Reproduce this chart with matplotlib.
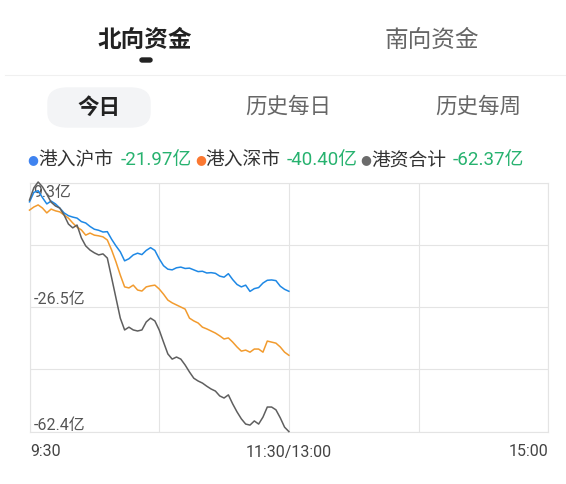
import numpy as np
import matplotlib
matplotlib.use('Agg')
import matplotlib.pyplot as plt
from matplotlib.patches import FancyBboxPatch

plt.rcParams['font.family'] = ['Noto Sans CJK SC', 'DejaVu Sans']
plt.rcParams['axes.unicode_minus'] = False

# ---- data (亿元), minutes after 9:30 ----
minutes = list(range(0, 121, 2))
sh_flow = [3.8, 6.5, 7.0, 5.0, 3.2, 4.0, 3.2, 2.0, 0.6, -0.2,
           -0.6, -0.9, -1.9, -2.3, -3.3, -4.1, -4.4, -4.9, -4.8, -7.0,
           -8.9, -10.6, -13.2, -12.6, -11.5, -11.0, -11.4, -10.2, -9.4, -10.2,
           -12.6, -14.6, -15.6, -15.8, -15.2, -15.0, -15.4, -15.3, -15.8, -16.3,
           -16.2, -16.7, -16.6, -16.8, -17.6, -17.9, -16.9, -18.6, -20.0, -20.7,
           -20.2, -22.0, -21.2, -20.9, -19.6, -18.8, -18.7, -18.9, -20.5, -21.4,
           -21.97]
sz_flow = [1.4, 2.3, 2.9, 2.0, 0.6, 1.7, 1.2, 0.9, 0.0, -0.9,
           -2.3, -3.5, -4.3, -5.8, -5.2, -5.8, -6.0, -6.3, -7.2, -10.1,
           -13.5, -17.3, -20.7, -21.0, -20.2, -21.6, -21.9, -20.7, -20.4, -20.2,
           -21.3, -22.8, -24.5, -25.3, -25.9, -26.5, -27.1, -29.7, -30.5, -31.1,
           -32.3, -32.8, -33.4, -34.0, -34.8, -35.7, -35.4, -36.6, -38.0, -39.2,
           -38.9, -39.5, -38.6, -38.6, -39.5, -36.3, -36.6, -36.9, -38.0, -39.5,
           -40.40]
total_flow = [4.3, 7.8, 9.5, 8.1, 6.0, 3.7, 2.6, 2.0, 0.0, -2.6,
              -3.7, -2.9, -6.6, -8.9, -10.1, -10.9, -11.5, -11.2, -12.4, -18.1,
              -23.9, -29.7, -33.1, -32.3, -33.1, -33.4, -33.1, -30.8, -29.7, -30.5,
              -33.1, -36.6, -40.0, -41.5, -40.9, -41.5, -43.2, -45.2, -47.0, -47.8,
              -48.4, -49.3, -50.1, -50.7, -52.1, -52.7, -51.8, -54.4, -56.7, -58.7,
              -60.2, -60.5, -59.3, -60.2, -58.2, -55.3, -55.3, -56.1, -58.4, -61.1,
              -62.37]

series_names = ['港入沪市', '港入深市', '港资合计']
series_last = ['-21.97亿', '-40.40亿', '-62.37亿']
y_top, y_bottom = 9.3, -62.4
y_labels = ['9.3亿', '-26.5亿', '-62.4亿']
x_labels = ['9:30', '11:30/13:00', '15:00']

W, H = 566, 484
fig = plt.figure(figsize=(W / 100, H / 100), dpi=100)
fig.patch.set_facecolor('white')


def px(x, y):
    return x / W, 1 - y / H


# ---- header tabs ----
fig.text(*px(145, 40), '北向资金', ha='center', va='center', fontsize=17,
         fontweight='bold', color='#222222')
fig.text(*px(432, 40), '南向资金', ha='center', va='center', fontsize=17,
         color='#666666')
x0, y0 = px(140, 62)
fig.patches.append(FancyBboxPatch((x0, y0), 12 / W, 4 / H,
                                  boxstyle='round,pad=0,rounding_size=0.004',
                                  transform=fig.transFigure, color='#222222'))
fig.add_artist(plt.Line2D([5 / W, 1], [1 - 75 / H] * 2, color='#f0f0f0', lw=0.8))

# pill behind "今日"
x0, y0 = px(48, 127)
fig.patches.append(FancyBboxPatch((x0, y0), 102 / W, 39 / H,
                                  boxstyle='round,pad=0,rounding_size=0.035',
                                  transform=fig.transFigure, color='#f3f4f6',
                                  mutation_aspect=H / W))
fig.text(*px(99, 107), '今日', ha='center', va='center', fontsize=15.5,
         fontweight='bold', color='#222222')
fig.text(*px(288, 107), '历史每日', ha='center', va='center', fontsize=15.5,
         color='#666666')
fig.text(*px(478, 107), '历史每周', ha='center', va='center', fontsize=15.5,
         color='#666666')

# ---- legend row ----
line_colors = ['#1e88e5', '#f29b2e', '#5f5f5f']
dot_colors = ['#3f83f0', '#fb7831', '#6b6b6b']
green = '#27b26f'
dot_x = [33, 201, 366]
name_x = [38, 205, 371]
val_x = [121, 287, 453]
for i in range(3):
    fig.text(*px(dot_x[i], 160), '●', ha='center', va='center', fontsize=9,
             color=dot_colors[i], family='DejaVu Sans')
    fig.text(*px(name_x[i], 160), series_names[i], ha='left', va='center',
             fontsize=13.5, color='#333333')
    fig.text(*px(val_x[i], 160), series_last[i], ha='left', va='center',
             fontsize=13.5, color=green, family=['Roboto', 'Noto Sans CJK SC'])

# ---- chart ----
l, t = px(29.5, 182.7)
r, b = px(548.3, 431.7)
ax = fig.add_axes([l, b, r - l, t - b])
ax.set_xlim(0, 240)
ax.set_ylim(y_bottom, y_top)
ax.set_xticks([0, 60, 120, 180, 240])
ax.set_yticks(np.linspace(y_top, y_bottom, 5))
ax.grid(True, color='#e4e4e4', lw=0.8)
ax.tick_params(length=0, labelbottom=False, labelleft=False)
for s in ax.spines.values():
    s.set_color('#e4e4e4')
    s.set_linewidth(0.8)

for vals, c in zip([sh_flow, sz_flow, total_flow], line_colors):
    ax.plot(minutes, vals, color=c, lw=1.1, zorder=3, clip_on=False)

lab_font = dict(fontsize=11.5, color='#555555', zorder=1,
                family=['Roboto', 'Noto Sans CJK SC'])
ax.annotate(y_labels[0], (0, y_top), xytext=(3, -2), textcoords='offset points',
            ha='left', va='top', **lab_font)
ax.annotate(y_labels[1], (0, -26.5), xytext=(3, 0), textcoords='offset points',
            ha='left', va='bottom', **lab_font)
ax.annotate(y_labels[2], (0, y_bottom), xytext=(3, -1), textcoords='offset points',
            ha='left', va='bottom', **lab_font)

xl_font = dict(fontsize=11.5, color='#444444', va='center',
               family=['Roboto', 'Noto Sans CJK SC'])
fig.text(*px(30, 452), x_labels[0], ha='left', **xl_font)
fig.text(*px(289, 452), x_labels[1], ha='center', **xl_font)
fig.text(*px(548, 452), x_labels[2], ha='right', **xl_font)

fig.savefig('out.png', dpi=100)
